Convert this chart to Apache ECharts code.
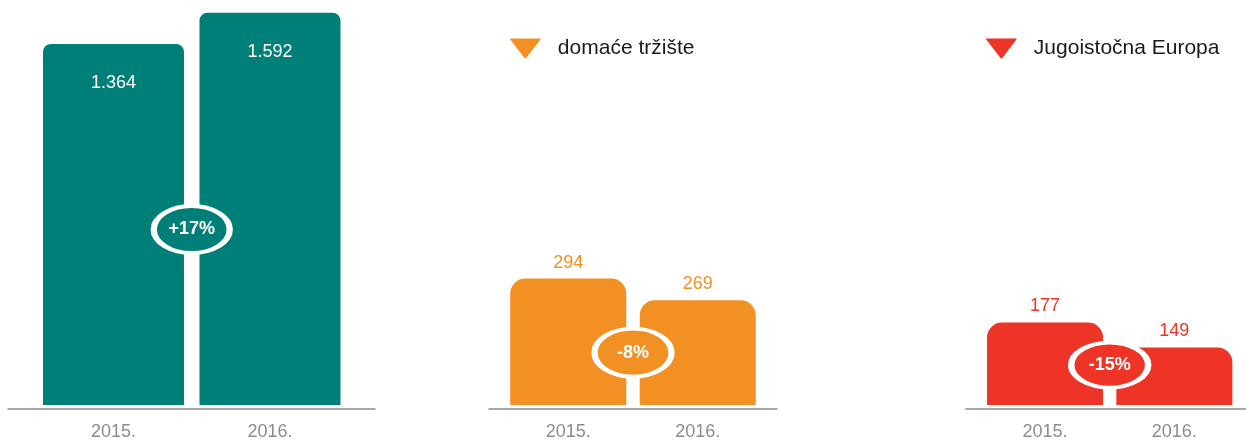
<!DOCTYPE html>
<html>
<head>
<meta charset="utf-8">
<script src="https://cdn.jsdelivr.net/npm/echarts@6/dist/echarts.min.js"></script>
<style>
  html, body { margin: 0; padding: 0; background: #fff; }
  #chart { width: 1246px; height: 441px; }
</style>
</head>
<body>
<div id="chart"></div>
<script>
const years = ["2015.", "2016."];
const ukupno = [1364, 1592];
const domaceTrziste = [294, 269];
const jugoistocnaEuropa = [177, 149];
const changes = ["+17%", "-8%", "-15%"];
const names = ["ukupno", "domaće tržište", "Jugoistočna Europa"];

// the picture is not drawn to one scale, so every panel gets its own axis range
const panels = [
  { name: names[0], values: ukupno, change: changes[0], color: "#007f78",
    left: 8, width: 367, xMin: -0.674, xMax: 1.671, yMin: -1273, yMax: 1597,
    barWidth: 141, radius: 8, badgeY: 9, badgeSize: [76, 47], inside: true },
  { name: names[1], values: domaceTrziste, change: changes[1], color: "#f39023",
    left: 489, width: 288, xMin: -0.612, xMax: 1.612, yMin: 148, yMax: 602,
    barWidth: 116, radius: 15, badgeY: 208.5, badgeSize: [77, 48], inside: false },
  { name: names[2], values: jugoistocnaEuropa, change: changes[2], color: "#ee3327",
    left: 966, width: 280, xMin: -0.611, xMax: 1.554, yMin: 84.4, yMax: 525.6,
    barWidth: 116, radius: 15, badgeY: 129.2, badgeSize: [77, 45], inside: false },
];

const fmt = (v) => String(v).replace(/\B(?=(\d{3})+(?!\d))/g, ".");
const triangle = "path://M1,0 L30,0 Q31,0 30.4,1 L16.2,19.4 Q15.5,20 14.8,19.4 L0.6,1 Q0,0 1,0 Z";

const chart = echarts.init(document.getElementById("chart"));

const series = [];
panels.forEach((p, i) => {
  series.push({
    type: "bar",
    name: p.name,
    xAxisIndex: i,
    yAxisIndex: i,
    barWidth: p.barWidth,
    data: p.values.map((v, j) => [j, v]),
    itemStyle: { color: p.color, borderRadius: [p.radius, p.radius, 0, 0] },
    label: {
      show: true,
      position: p.inside ? "insideTop" : "top",
      distance: p.inside ? 30 : 7,
      color: p.inside ? "#fff" : p.color,
      fontSize: 18,
      formatter: (params) => fmt(params.value[1]),
    },
    silent: true,
  });
  series.push({
    type: "scatter",
    name: "promjena " + (i + 1),
    xAxisIndex: i,
    yAxisIndex: i,
    data: [[0.5, p.badgeY]],
    symbol: "circle",
    symbolSize: p.badgeSize,
    itemStyle: { color: p.color, borderColor: "#fff", borderWidth: 5, opacity: 1 },
    label: {
      show: true,
      position: "inside",
      formatter: p.change,
      color: "#fff",
      fontWeight: "bold",
      fontSize: 18,
    },
    z: 5,
    silent: true,
  });
});

const legendStyle = {
  top: 33,
  itemWidth: 31,
  itemHeight: 20,
  icon: triangle,
  selectedMode: false,
  textStyle: { fontSize: 21, color: "#1a1a1a", padding: [0, 0, 0, 12] },
};

chart.setOption({
  animation: false,
  textStyle: { fontFamily: "Liberation Sans, Arial, sans-serif" },
  legend: [
    Object.assign({ data: [names[1]], left: 505 }, legendStyle),
    Object.assign({ data: [names[2]], left: 981 }, legendStyle),
  ],
  grid: panels.map((p) => ({ left: p.left, width: p.width, top: 12, bottom: 35 })),
  xAxis: panels.map((p, i) => ({
    type: "value",
    gridIndex: i,
    min: p.xMin,
    max: p.xMax,
    offset: 4,
    axisLine: { show: true, onZero: false, lineStyle: { color: "#8c8c8c", width: 1.5 } },
    axisTick: { show: false },
    splitLine: { show: false },
    axisLabel: {
      customValues: [0, 1],
      formatter: (v) => years[Math.round(v)],
      color: "#8c8c8c",
      fontSize: 18,
      margin: 14,
    },
  })),
  yAxis: panels.map((p, i) => ({
    type: "value",
    gridIndex: i,
    show: false,
    min: p.yMin,
    max: p.yMax,
    startValue: p.yMin,
    splitLine: { show: false },
  })),
  series: series,
});
</script>
</body>
</html>
